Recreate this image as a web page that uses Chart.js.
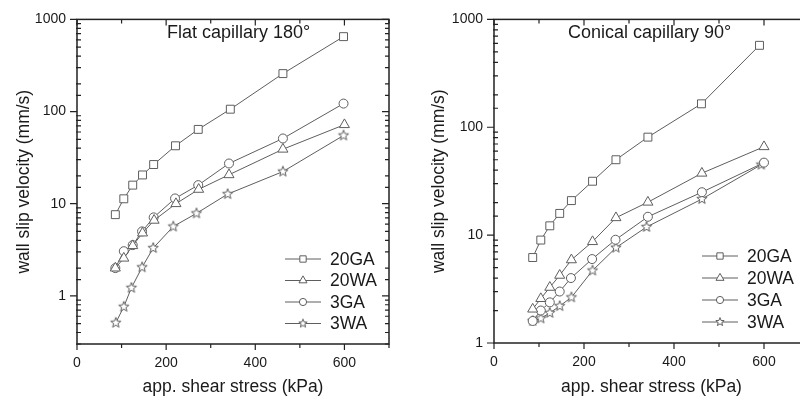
<!DOCTYPE html>
<html>
<head>
<meta charset="utf-8">
<script src="https://cdn.jsdelivr.net/npm/chart.js@4.4.1/dist/chart.umd.min.js"></script>
<style>
html, body { margin: 0; padding: 0; background: #fff; overflow: hidden; }
#wrap { position: relative; width: 800px; height: 407px; overflow: hidden; }
#flat { position: absolute; left: 0; top: 0; }
#conical { position: absolute; left: 400px; top: 0; }
</style>
</head>
<body>
<div id="wrap">
<canvas id="flat" width="400" height="407"></canvas>
<canvas id="conical" width="420" height="407"></canvas>
</div>
<script>
var seriesNames = ['20GA', '20WA', '3GA', '3WA'];

// flat capillary 180° - x = app. shear stress (kPa), v = wall slip velocity (mm/s)
var flatX20GA = [86, 105, 125, 147, 172, 221, 272, 344, 462, 598];
var flatV20GA = [7.6, 11.3, 15.9, 20.5, 26.6, 42.5, 64, 106, 258, 650];
var flatX20WA = [86, 105, 125, 147, 173, 222, 273, 341, 462, 600];
var flatV20WA = [2.0, 2.56, 3.5, 4.8, 6.6, 10.0, 14.3, 20.6, 39, 72];
var flatX3GA = [86, 105, 125, 146, 172, 220, 272, 341, 462, 598];
var flatV3GA = [2.0, 3.05, 3.55, 5.0, 7.1, 11.4, 15.9, 27.3, 51, 122];
var flatX3WA = [87, 105, 122, 146, 171, 216, 268, 338, 462, 598];
var flatV3WA = [0.51, 0.76, 1.22, 2.04, 3.3, 5.65, 7.85, 12.7, 22.3, 55];

// conical capillary 90°
var conX20GA = [86, 104, 124, 146, 172, 219, 271, 342, 461, 590];
var conV20GA = [6.2, 9.0, 12.2, 15.9, 20.9, 31.6, 50, 81, 165, 575];
var conX20WA = [86, 104, 124, 146, 172, 219, 271, 342, 462, 600];
var conV20WA = [2.06, 2.58, 3.28, 4.24, 5.9, 8.7, 14.5, 20.2, 37.5, 66];
var conX3GA = [86, 104, 124, 146, 171, 218, 270, 342, 462, 600];
var conV3GA = [1.6, 2.0, 2.38, 3.0, 4.0, 6.0, 9.06, 14.8, 25, 47];
var conX3WA = [86, 104, 124, 146, 172, 219, 271, 339, 462, 594];
var conV3WA = [1.6, 1.69, 1.9, 2.2, 2.65, 4.7, 7.65, 11.9, 21.6, 45];

var xLabelTicks = [0, 200, 400, 600];
var yLabelTicks = [1, 10, 100, 1000];

var FONT = '"Liberation Sans", Arial, sans-serif';
var LINE = '#5e5e5e';
var AXIS = '#222';
var TEXT = '#1a1a1a';

Chart.defaults.font.family = FONT;
Chart.defaults.color = TEXT;

// five pointed open star, used as pointStyle
function makeStar(size, outer, inner) {
    var c = document.createElement('canvas');
    c.width = size; c.height = size;
    var ctx = c.getContext('2d');
    var cx = size / 2, cy = size / 2;
    ctx.beginPath();
    for (var i = 0; i < 10; i++) {
        var r = i % 2 === 0 ? outer : inner;
        var a = -Math.PI / 2 + i * Math.PI / 5;
        var px = cx + Math.cos(a) * r, py = cy + Math.sin(a) * r;
        if (i === 0) ctx.moveTo(px, py); else ctx.lineTo(px, py);
    }
    ctx.closePath();
    ctx.fillStyle = '#fff';
    ctx.fill();
    ctx.strokeStyle = LINE;
    ctx.lineWidth = 1;
    ctx.stroke();
    return c;
}

var starBig = makeStar(14, 5.4, 2.3);
var starSmall = makeStar(12, 4.4, 1.9);

var markers = ['rect', 'triangle', 'circle', starBig];
var legendMarkers = ['rect', 'triangle', 'circle', starSmall];
var markerRadius = [5.6, 5.8, 4.5, 5];

function drawMarker(ctx, style, r, x, y) {
    if (style instanceof HTMLCanvasElement) {
        ctx.drawImage(style, x - style.width / 2, y - style.height / 2);
        return;
    }
    ctx.beginPath();
    if (style === 'rect') {
        var s = r * Math.SQRT1_2;
        ctx.rect(x - s, y - s, 2 * s, 2 * s);
    } else if (style === 'triangle') {
        var rad = 0;
        ctx.moveTo(x + Math.sin(rad) * r, y - Math.cos(rad) * r);
        rad += Math.PI * 2 / 3;
        ctx.lineTo(x + Math.sin(rad) * r, y - Math.cos(rad) * r);
        rad += Math.PI * 2 / 3;
        ctx.lineTo(x + Math.sin(rad) * r, y - Math.cos(rad) * r);
        ctx.closePath();
    } else {
        ctx.arc(x, y, r, 0, Math.PI * 2);
    }
    ctx.fill();
    ctx.stroke();
}

function toPoints(xs, vs) {
    return xs.map(function (x, i) { return { x: x, y: vs[i] }; });
}

function makeDatasets(xList, vList) {
    return seriesNames.map(function (name, i) {
        return {
            label: name,
            data: toPoints(xList[i], vList[i]),
            borderColor: LINE,
            borderWidth: 1,
            backgroundColor: '#fff',
            pointStyle: markers[i],
            pointRadius: markerRadius[i],
            pointBorderWidth: 1,
            pointBorderColor: LINE,
            pointBackgroundColor: '#fff',
            tension: 0,
            fill: false
        };
    });
}

// frame, ticks, panel title and legend
var panelDeco = {
    id: 'panelDeco',
    afterDraw: function (chart, args, opts) {
        var ctx = chart.ctx;
        var a = chart.chartArea;
        var xs = chart.scales.x, ys = chart.scales.y;
        ctx.save();
        ctx.strokeStyle = AXIS;
        ctx.lineWidth = 1.5;
        ctx.strokeRect(a.left, a.top, a.right - a.left, a.bottom - a.top);

        ctx.lineWidth = 1.2;
        ctx.beginPath();
        xs.ticks.forEach(function (t) {
            var px = xs.getPixelForValue(t.value);
            var len = t.value % 200 === 0 ? 6 : 4;
            ctx.moveTo(px, a.bottom); ctx.lineTo(px, a.bottom + len);
            ctx.moveTo(px, a.top); ctx.lineTo(px, a.top + len);
        });
        ys.ticks.forEach(function (t) {
            var py = ys.getPixelForValue(t.value);
            var lg = Math.log10(t.value);
            var major = Math.abs(lg - Math.round(lg)) < 1e-6;
            if (major) {
                ctx.moveTo(a.left - 7, py); ctx.lineTo(a.left, py);
                ctx.moveTo(a.right, py); ctx.lineTo(a.right - 7, py);
            } else {
                ctx.moveTo(a.left - 1, py); ctx.lineTo(a.left + 4, py);
                ctx.moveTo(a.right, py); ctx.lineTo(a.right - 4, py);
            }
        });
        ctx.stroke();

        ctx.fillStyle = TEXT;
        ctx.font = '18px ' + FONT;
        ctx.textAlign = 'left';
        ctx.textBaseline = 'middle';
        ctx.fillText(opts.title, opts.titleX, opts.titleY);

        ctx.font = '17.5px ' + FONT;
        chart.data.datasets.forEach(function (ds, i) {
            var y = opts.legendY + i * opts.legendStep;
            ctx.strokeStyle = LINE;
            ctx.lineWidth = 1;
            ctx.beginPath();
            ctx.moveTo(opts.legendX, y);
            ctx.lineTo(opts.legendX + 36, y);
            ctx.stroke();
            ctx.fillStyle = '#fff';
            drawMarker(ctx, legendMarkers[i], markerRadius[i] * 0.8, opts.legendX + 18, y);
            ctx.fillStyle = TEXT;
            ctx.fillText(ds.label, opts.legendX + 45, y + 1);
        });
        ctx.restore();
    }
};

function makeChart(id, xList, vList, yMin, yAxisWidth, pad, deco) {
    return new Chart(document.getElementById(id), {
        type: 'line',
        data: { datasets: makeDatasets(xList, vList) },
        plugins: [panelDeco],
        options: {
            responsive: false,
            animation: false,
            layout: { padding: pad },
            plugins: {
                legend: { display: false },
                tooltip: { enabled: false },
                panelDeco: deco
            },
            scales: {
                x: {
                    type: 'linear',
                    min: 0,
                    max: 700,
                    grid: { display: false, drawTicks: false },
                    border: { display: false },
                    ticks: {
                        stepSize: 100,
                        autoSkip: false,
                        maxRotation: 0,
                        padding: 11,
                        font: { size: 14 },
                        callback: function (v) { return xLabelTicks.indexOf(v) >= 0 ? String(v) : ''; }
                    },
                    title: {
                        display: true,
                        text: 'app. shear stress (kPa)',
                        font: { size: 17.5 },
                        padding: { top: 0, bottom: 9 }
                    },
                    afterFit: function (s) { s.height = 407 - pad.top - deco.plotHeight; }
                },
                y: {
                    type: 'logarithmic',
                    min: yMin,
                    max: 1000,
                    grid: { display: false, drawTicks: false },
                    border: { display: false },
                    ticks: {
                        autoSkip: false,
                        padding: 11,
                        font: { size: 14 },
                        callback: function (v) { return yLabelTicks.indexOf(v) >= 0 ? String(v) : ''; }
                    },
                    title: {
                        display: true,
                        text: 'wall slip velocity (mm/s)',
                        font: { size: 17.5 },
                        padding: { top: deco.yTitlePad, bottom: 0 }
                    },
                    afterFit: function (s) { s.width = yAxisWidth; }
                }
            }
        }
    });
}

makeChart('flat',
    [flatX20GA, flatX20WA, flatX3GA, flatX3WA],
    [flatV20GA, flatV20WA, flatV3GA, flatV3WA],
    0.3, 77, { left: 0, top: 14, right: 7, bottom: 0 },
    { title: 'Flat capillary 180°', titleX: 167, titleY: 33, legendX: 285, legendY: 259, legendStep: 21.5,
      plotHeight: 330, yTitlePad: 14 });

makeChart('conical',
    [conX20GA, conX20WA, conX3GA, conX3WA],
    [conV20GA, conV20WA, conV3GA, conV3WA],
    1, 94, { left: 0, top: 12, right: 11, bottom: 0 },
    { title: 'Conical capillary 90°', titleX: 168, titleY: 33, legendX: 302, legendY: 256, legendStep: 22,
      plotHeight: 331, yTitlePad: 29 });
</script>
</body>
</html>
